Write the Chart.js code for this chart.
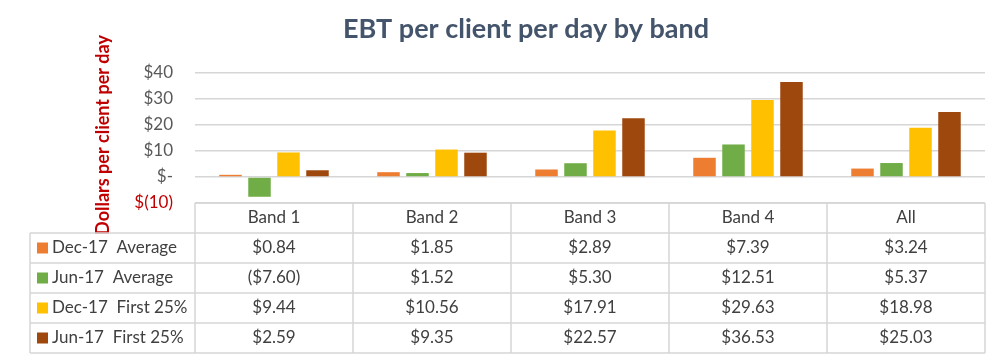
<!DOCTYPE html>
<html>
<head>
<meta charset="utf-8">
<script src="https://cdn.jsdelivr.net/npm/chart.js@4/dist/chart.umd.min.js"></script>
<style>
  html, body { margin: 0; padding: 0; background: #fff; }
  #wrap { width: 1000px; height: 359px; position: relative; }
</style>
</head>
<body>
<div id="wrap"><canvas id="c" width="1000" height="359"></canvas></div>
<script>
// ---- data ----
const categories = ['Band 1', 'Band 2', 'Band 3', 'Band 4', 'All'];
const seriesNames = ['Dec-17  Average', 'Jun-17  Average', 'Dec-17  First 25%', 'Jun-17  First 25%'];
const dec17Average = [0.84, 1.85, 2.89, 7.39, 3.24];
const jun17Average = [-7.60, 1.52, 5.30, 12.51, 5.37];
const dec17First25 = [9.44, 10.56, 17.91, 29.63, 18.98];
const jun17First25 = [2.59, 9.35, 22.57, 36.53, 25.03];
const yTicks = [-10, 0, 10, 20, 30, 40];
const chartTitle = 'EBT per client per day by band';
const yTitle = 'Dollars per client per day';

// ---- styles ----
const colors = ['#ED7D31', '#70AD47', '#FFC000', '#9E480E'];
const FONT = 'Lato, "Open Sans", sans-serif';
const TEXT = '#404040';
const GRID = '#d6d6d6';
const RED = '#C00000';

function fmtMoney(v) {
  const s = '$' + Math.abs(v).toFixed(2);
  return v < 0 ? '(' + s + ')' : s;
}
function fmtTick(v) {
  if (v === 0) return '$-';
  if (v < 0) return '$(' + Math.abs(v) + ')';
  return '$' + v;
}

const allSeries = [dec17Average, jun17Average, dec17First25, jun17First25];

const tablePlugin = {
  id: 'tableAndTitles',
  afterDraw(chart) {
    const ctx = chart.ctx;
    const x = chart.scales.x;
    const area = chart.chartArea;
    const n = categories.length;
    const colW = (area.right - area.left) / n;
    const top = area.bottom;
    const rowH = 30;
    const legendLeft = 30;

    ctx.save();
    // Title
    ctx.fillStyle = '#44546A';
    ctx.font = 'bold 27px ' + FONT;
    ctx.textAlign = 'center';
    ctx.textBaseline = 'middle';
    ctx.fillText(chartTitle, 526, 29);

    // Y title
    ctx.save();
    ctx.translate(103, 135);
    ctx.rotate(-Math.PI / 2);
    ctx.fillStyle = RED;
    ctx.font = 'bold 18px ' + FONT;
    ctx.textAlign = 'center';
    ctx.textBaseline = 'middle';
    ctx.fillText(yTitle, 0, 0);
    ctx.restore();

    // Table lines
    ctx.strokeStyle = GRID;
    ctx.lineWidth = 1.5;
    ctx.beginPath();
    ctx.moveTo(area.left, top); ctx.lineTo(area.right, top);
    for (let r = 1; r <= 5; r++) {
      const yy = top + rowH * r;
      ctx.moveTo(legendLeft, yy); ctx.lineTo(area.right, yy);
    }
    ctx.moveTo(legendLeft, top + rowH); ctx.lineTo(legendLeft, top + rowH * 5);
    for (let i = 0; i <= n; i++) {
      const xx = area.left + colW * i;
      ctx.moveTo(xx, top); ctx.lineTo(xx, top + rowH * 5);
    }
    ctx.stroke();

    // Header labels
    ctx.fillStyle = TEXT;
    ctx.font = '17px ' + FONT;
    ctx.textAlign = 'center';
    ctx.textBaseline = 'middle';
    categories.forEach((c, i) => {
      ctx.fillText(c, x.getPixelForValue(i), top + rowH / 2);
    });
    // Rows
    allSeries.forEach((arr, r) => {
      const yy = top + rowH * (r + 1) + rowH / 2;
      ctx.fillStyle = colors[r];
      ctx.fillRect(legendLeft + 7, yy - 5.5, 11, 11);
      ctx.fillStyle = TEXT;
      ctx.textAlign = 'left';
      ctx.fillText(seriesNames[r], legendLeft + 22, yy);
      ctx.textAlign = 'center';
      arr.forEach((v, i) => {
        ctx.fillText(fmtMoney(v), x.getPixelForValue(i), yy);
      });
    });
    ctx.restore();
  }
};

new Chart(document.getElementById('c'), {
  type: 'bar',
  data: {
    labels: categories,
    datasets: seriesNames.map((name, i) => ({
      label: name,
      data: allSeries[i],
      backgroundColor: colors[i],
      borderWidth: 0,
      categoryPercentage: 0.734,
      barPercentage: 0.776
    }))
  },
  options: {
    responsive: false,
    animation: false,
    devicePixelRatio: 1,
    layout: { padding: { top: 73, right: 15, bottom: 156, left: 0 } },
    plugins: { legend: { display: false }, title: { display: false }, tooltip: { enabled: false } },
    scales: {
      x: { display: false },
      y: {
        min: -10, max: 40,
        afterBuildTicks: (s) => { s.ticks = yTicks.map(v => ({ value: v })); },
        afterFit: (s) => { s.width = 195; },
        border: { display: false },
        grid: { color: GRID, lineWidth: 1.5, drawTicks: false },
        ticks: {
          padding: 22,
          color: (c) => c.tick && c.tick.value < 0 ? RED : '#595959',
          font: { family: FONT, size: 17 },
          callback: (v) => fmtTick(v)
        }
      }
    }
  },
  plugins: [tablePlugin]
});
</script>
</body>
</html>
